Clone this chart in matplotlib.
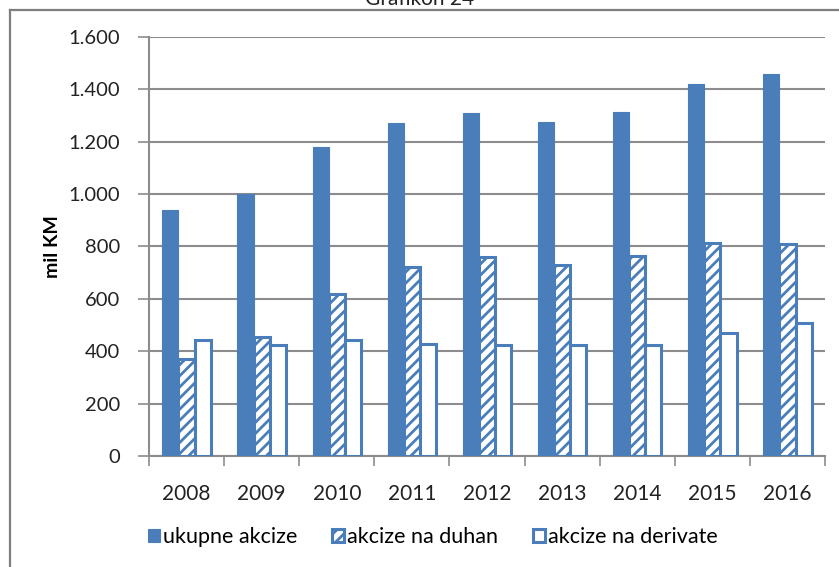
import matplotlib
matplotlib.use("Agg")
import matplotlib.pyplot as plt
import numpy as np
from matplotlib.ticker import FuncFormatter, FixedLocator
from matplotlib.lines import Line2D

plt.rcParams['font.family'] = ['Lato', 'DejaVu Sans']
plt.rcParams['hatch.linewidth'] = 2.0
plt.rcParams['hatch.color'] = '#4A7EBB'

years = ['2008', '2009', '2010', '2011', '2012', '2013', '2014', '2015', '2016']
ukupne = [941, 1002, 1181, 1272, 1309, 1277, 1315, 1420, 1459]
duhan = [370, 454, 620, 723, 761, 731, 763, 815, 811]
derivate = [442, 425, 442, 429, 423, 423, 425, 471, 509]
series_names = ['ukupne akcize', 'akcize na duhan', 'akcize na derivate']
yticks = [0, 200, 400, 600, 800, 1000, 1200, 1400, 1600]

BLUE = '#4A7EBB'
GRID = '#8C8C8C'

W, H = 839, 567
fig = plt.figure(figsize=(W / 100, H / 100), dpi=100)
ax = fig.add_axes([149 / W, 1 - 456 / H, (825 - 149) / W, (456 - 37) / H])

x = np.arange(len(years))
bw = 0.215
ax.bar(x - bw, ukupne, bw, color=BLUE, edgecolor=BLUE, linewidth=0.8, zorder=3)
ax.bar(x, duhan, bw, color='white', edgecolor=BLUE, hatch='///', linewidth=2.2, zorder=3)
ax.bar(x + bw, derivate, bw, color='white', edgecolor=BLUE, linewidth=2.2, zorder=3)

ax.set_xlim(-0.5, len(years) - 0.5)
ax.set_ylim(0, 1600)
ax.yaxis.set_major_locator(FixedLocator(yticks))
ax.yaxis.set_major_formatter(FuncFormatter(lambda v, p: f"{int(v):,}".replace(',', '.')))
ax.set_xticks(x)
ax.set_xticklabels(years)
ax.xaxis.set_minor_locator(FixedLocator(np.arange(-0.5, len(years), 1.0)))
ax.tick_params(axis='x', which='major', length=0, pad=20, labelsize=15, colors='#222222')
ax.tick_params(axis='x', which='minor', length=7, width=1.2, color=GRID)
ax.tick_params(axis='y', length=8, width=1.2, color=GRID, pad=13, labelsize=14.5, labelcolor='#222222')

ax.grid(axis='y', color=GRID, linewidth=1.5, zorder=0)
ax.set_axisbelow(True)
for s in ['top', 'right']:
    ax.spines[s].set_visible(False)
for s in ['left', 'bottom']:
    ax.spines[s].set_color(GRID)
    ax.spines[s].set_linewidth(1.5)

ax.set_ylabel('mil KM', fontsize=14, fontweight='bold', va='center', color='black')
ax.yaxis.set_label_coords((53 - 149) / 676, 0.5)

handles = [
    plt.Rectangle((0, 0), 1, 1, facecolor=BLUE, edgecolor=BLUE, linewidth=0.8),
    plt.Rectangle((0, 0), 1, 1, facecolor='white', edgecolor=BLUE, hatch='///', linewidth=2.2),
    plt.Rectangle((0, 0), 1, 1, facecolor='white', edgecolor=BLUE, linewidth=2.2),
]
fig.legend(handles, series_names, loc='center', bbox_to_anchor=(433 / W, 1 - 537 / H),
           ncol=3, frameon=False, fontsize=15.5, handlelength=0.55, handleheight=0.55,
           handletextpad=0.15, columnspacing=1.6, borderaxespad=0)

fig.text(420 / W, 1 - 5 / H, 'Grafikon 24', ha='center', va='baseline', fontsize=15, color='#222222')

fig.add_artist(Line2D([10 / W, 1.0], [1 - 10 / H, 1 - 10 / H], transform=fig.transFigure, color='#7F7F7F', linewidth=1.6))
fig.add_artist(Line2D([10 / W, 10 / W], [0, 1 - 10 / H], transform=fig.transFigure, color='#7F7F7F', linewidth=1.6))

fig.savefig('out.png', dpi=100)
